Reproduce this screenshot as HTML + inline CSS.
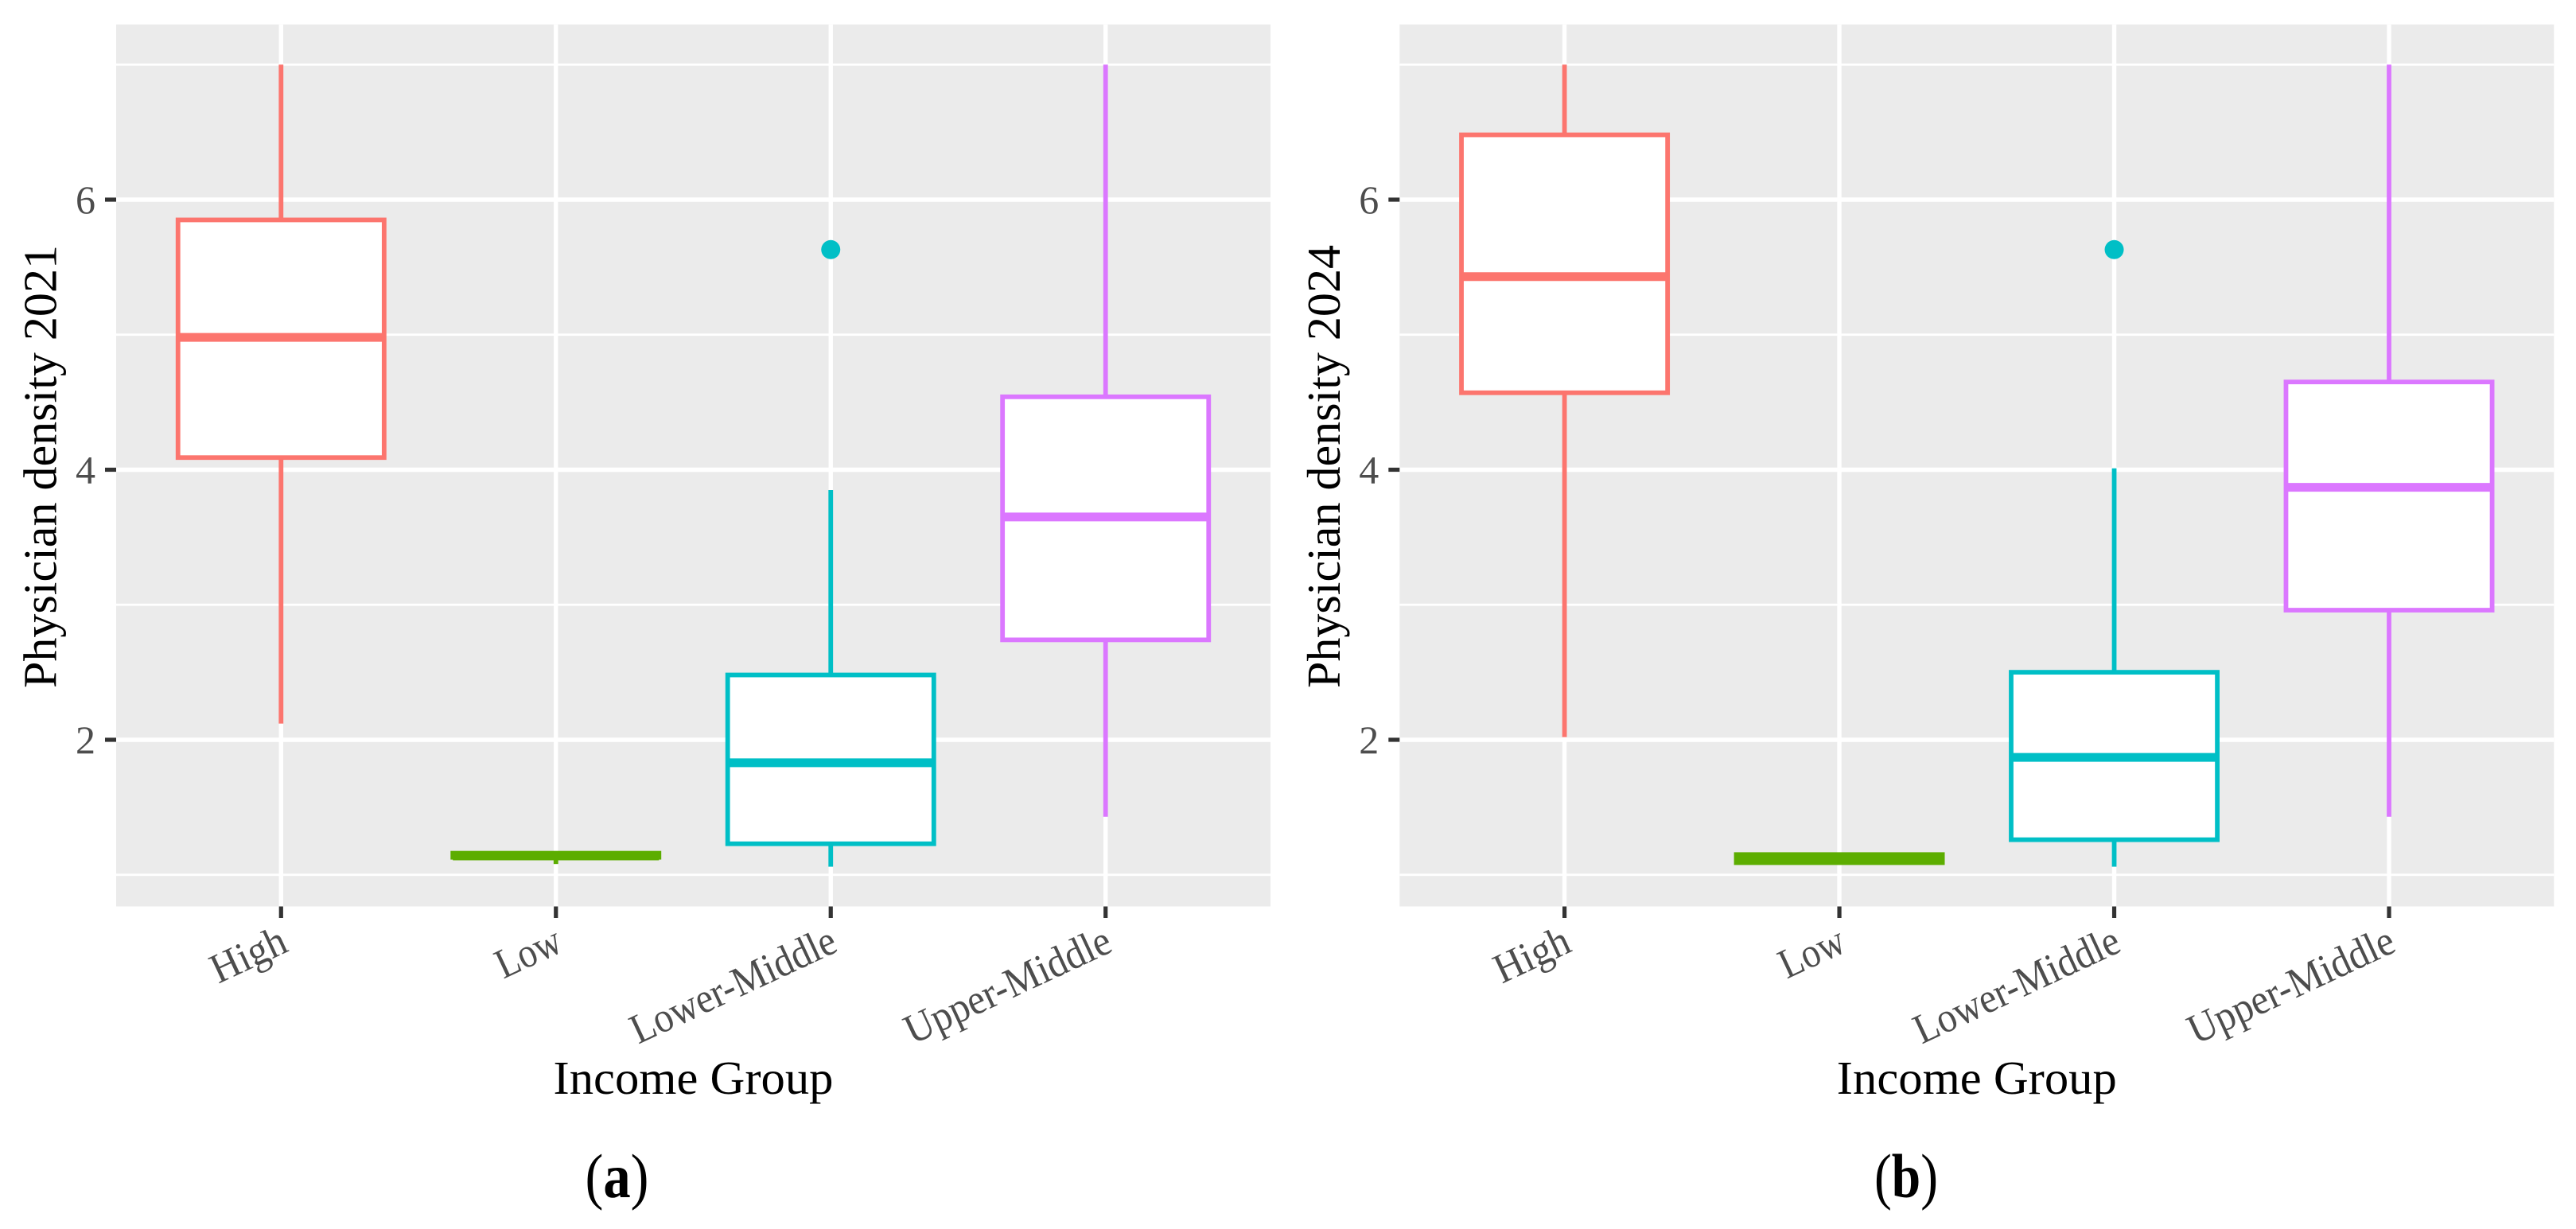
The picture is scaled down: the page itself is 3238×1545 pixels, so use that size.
<!DOCTYPE html>
<html lang="en">
<head>
<meta charset="utf-8">
<title>Physician density by income group</title>
<style>
html,body{margin:0;padding:0;background:#fff;}
svg{display:block;}
text{font-family:"Liberation Serif",serif;}
</style>
</head>
<body>
<svg id="figure" xmlns="http://www.w3.org/2000/svg" width="3238" height="1545" viewBox="0 0 3238 1545"></svg>
<script>
const categories = ["High", "Low", "Lower-Middle", "Upper-Middle"];
const categoryColors = ["#FC756E", "#5CAD00", "#00BFC6", "#DB77FF"];
const yMajorTicks = [2, 4, 6];
const yMinorTicks = [1, 3, 5, 7];

// Box statistics for panel (a), per category
const a_whiskerLow = [2.12, 1.08, 1.06, 1.43];
const a_q1 = [4.09, 1.13, 1.23, 2.74];
const a_median = [4.98, 1.14, 1.83, 3.65];
const a_q3 = [5.85, 1.16, 2.48, 4.54];
const a_whiskerHigh = [7.0, 1.16, 3.85, 7.0];
const a_outliers = [[], [], [5.63], []];

// Box statistics for panel (b), per category
const b_whiskerLow = [2.02, 1.08, 1.06, 1.43];
const b_q1 = [4.57, 1.09, 1.26, 2.96];
const b_median = [5.43, 1.12, 1.87, 3.87];
const b_q3 = [6.48, 1.15, 2.5, 4.65];
const b_whiskerHigh = [7.0, 1.15, 4.01, 7.0];
const b_outliers = [[], [], [5.63], []];

const NS = "http://www.w3.org/2000/svg";
const svg = document.getElementById("figure");

const yPx = v => 930 - (v - 2) * 169.75;

function add(parent, tag, attrs, name) {
  const el = document.createElementNS(NS, tag);
  for (const k in attrs) el.setAttribute(k, attrs[k]);
  
  
  parent.appendChild(el);
  return el;
}

function drawPanel(cfg) {
  const panelW = 1451, top = 30.7, bottom = 1139.5;
  const xPx = i => cfg.left + (i + 0.6) * (panelW / 4.2);
  const boxHalf = 0.375 * (panelW / 4.2);
  const g = add(svg, "g", {}, cfg.id + "-chart");

  add(g, "rect", {x: cfg.left, y: top, width: panelW, height: bottom - top, fill: "#EBEBEB"}, cfg.id + "-plot-background");

  yMinorTicks.forEach(v => {
    add(g, "line", {x1: cfg.left, x2: cfg.left + panelW, y1: yPx(v), y2: yPx(v), stroke: "#fff", "stroke-width": 2.8}, cfg.id + "-minor-gridline-" + v);
  });
  yMajorTicks.forEach(v => {
    add(g, "line", {x1: cfg.left, x2: cfg.left + panelW, y1: yPx(v), y2: yPx(v), stroke: "#fff", "stroke-width": 5.4}, cfg.id + "-major-gridline-" + v);
    add(g, "line", {x1: cfg.left - 14, x2: cfg.left, y1: yPx(v), y2: yPx(v), stroke: "#333", "stroke-width": 5.2}, cfg.id + "-y-tick-" + v);
    const t = add(g, "text", {x: cfg.left - 26, y: yPx(v) + 17, "text-anchor": "end", "font-size": 50, fill: "#4D4D4D"}, cfg.id + "-y-tick-label-" + v);
    t.textContent = v;
  });

  const labelLengths = [99, 85, 279, 280];
  categories.forEach((c, i) => {
    const x = xPx(i);
    add(g, "line", {x1: x, x2: x, y1: top, y2: bottom, stroke: "#fff", "stroke-width": 5.4}, cfg.id + "-vertical-gridline-" + c);
    add(g, "line", {x1: x, x2: x, y1: bottom, y2: 1154, stroke: "#333", "stroke-width": 5.2}, cfg.id + "-x-tick-" + c);
    const ax = x + 11, ay = 1195;
    const t = add(g, "text", {x: ax, y: ay, "text-anchor": "end", "font-size": 53, fill: "#4D4D4D",
      textLength: labelLengths[i], lengthAdjust: "spacingAndGlyphs",
      transform: "rotate(-25 " + ax + " " + ay + ")"}, cfg.id + "-x-tick-label-" + c);
    t.textContent = c;
  });

  categories.forEach((c, i) => {
    const x = xPx(i), col = categoryColors[i];
    const key = cfg.id + "-" + c;
    add(g, "line", {x1: x, x2: x, y1: yPx(cfg.whiskerHigh[i]), y2: yPx(cfg.q3[i]), stroke: col, "stroke-width": 5.8}, key + "-upper-whisker");
    add(g, "line", {x1: x, x2: x, y1: yPx(cfg.q1[i]), y2: yPx(cfg.whiskerLow[i]), stroke: col, "stroke-width": 5.8}, key + "-lower-whisker");
    add(g, "rect", {x: x - boxHalf, y: yPx(cfg.q3[i]), width: boxHalf * 2, height: yPx(cfg.q1[i]) - yPx(cfg.q3[i]), fill: "#fff", stroke: col, "stroke-width": 5.8}, key + "-box");
    add(g, "line", {x1: x - boxHalf, x2: x + boxHalf, y1: yPx(cfg.median[i]), y2: yPx(cfg.median[i]), stroke: col, "stroke-width": 11}, key + "-median");
    cfg.outliers[i].forEach(v => {
      add(g, "circle", {cx: x, cy: yPx(v), r: 12, fill: col}, key + "-outlier");
    });
  });

  const yt = add(g, "text", {x: 0, y: 0, "text-anchor": "middle", "font-size": 59, fill: "#000",
    textLength: 557, lengthAdjust: "spacingAndGlyphs",
    transform: "translate(" + (cfg.left - 75.3) + " 586.5) rotate(-90)"}, cfg.id + "-y-axis-title");
  yt.textContent = cfg.yTitle;

  const xt = add(g, "text", {x: cfg.left + panelW / 2, y: 1375, "text-anchor": "middle", "font-size": 59, fill: "#000",
    textLength: 352, lengthAdjust: "spacingAndGlyphs"}, cfg.id + "-x-axis-title");
  xt.textContent = "Income Group";

  const cap = add(g, "text", {x: cfg.captionX, y: 1505, "text-anchor": "middle", "font-size": 78, fill: "#000",
    textLength: 80, lengthAdjust: "spacingAndGlyphs"}, cfg.id + "-panel-caption");
  const t1 = document.createElementNS(NS, "tspan");
  t1.textContent = "(";
  const t2 = document.createElementNS(NS, "tspan");
  t2.setAttribute("font-weight", "bold");
  t2.textContent = cfg.id;
  const t3 = document.createElementNS(NS, "tspan");
  t3.textContent = ")";
  cap.append(t1, t2, t3);
}

drawPanel({id: "a", left: 146, yTitle: "Physician density 2021", captionX: 775.5,
  whiskerLow: a_whiskerLow, q1: a_q1, median: a_median, q3: a_q3, whiskerHigh: a_whiskerHigh, outliers: a_outliers});
drawPanel({id: "b", left: 1759.3, yTitle: "Physician density 2024", captionX: 2396,
  whiskerLow: b_whiskerLow, q1: b_q1, median: b_median, q3: b_q3, whiskerHigh: b_whiskerHigh, outliers: b_outliers});
</script>
</body>
</html>
